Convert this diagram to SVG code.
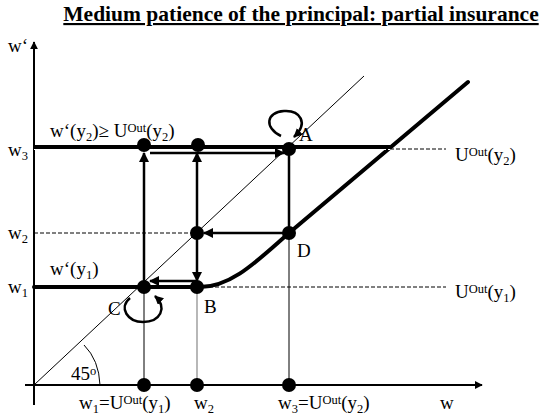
<svg xmlns="http://www.w3.org/2000/svg" width="542" height="415" viewBox="0 0 542 415">
<defs>
<style>
.t{font-family:"Liberation Serif","Times New Roman",serif;font-size:19px;fill:#000}
.sub{font-size:12.5px}
.sup{font-size:12.5px}
.thin{stroke:#000;stroke-width:1;fill:none}
.thick{stroke:#000;stroke-width:4;fill:none}
.med{stroke:#000;stroke-width:2.5;fill:none}
.dash{stroke:#000;stroke-width:1;stroke-dasharray:4,2;fill:none}
.dot{fill:#000}
</style>
<marker id="ah" viewBox="0 0 10 10" refX="9" refY="5" markerWidth="4" markerHeight="4" orient="auto-start-reverse">
<path d="M0,0 L10,5 L0,10 z" fill="#000"/>
</marker>
<marker id="ahs" viewBox="0 0 10 10" refX="9" refY="5" markerWidth="3.6" markerHeight="3.6" orient="auto">
<path d="M0,0 L10,5 L0,10 z" fill="#000"/>
</marker>
</defs>
<rect width="542" height="415" fill="#fff"/>
<text x="301" y="21" text-anchor="middle" style="font-family:'Liberation Serif','Times New Roman',serif;font-size:21.5px;font-weight:bold;text-decoration:underline">Medium patience of the principal: partial insurance</text>
<g id="axes">
<line x1="34" y1="405" x2="34" y2="42" stroke="#000" stroke-width="2" marker-end="url(#ah)"/>
<line x1="25" y1="385" x2="482" y2="385" stroke="#000" stroke-width="2" marker-end="url(#ah)"/>
<line x1="34" y1="385" x2="364" y2="76" class="thin"/>
<path d="M100,385 Q99,360 84,345" class="thin"/>
</g>
<g id="connectors">
<path d="M34,287 L200,287 C232,287 258,260 289,233 L468,82" class="thick" stroke-linecap="round"/>
<line x1="34" y1="147" x2="390" y2="147" class="thick"/>
<line x1="34" y1="149.5" x2="446" y2="149.5" stroke="#fff" stroke-width="1" stroke-dasharray="4,2"/>
<line x1="390" y1="149" x2="446" y2="149" class="dash"/>
<line x1="34" y1="233" x2="197" y2="233" class="dash"/>
<line x1="197" y1="287" x2="446" y2="287" class="dash"/>
<line x1="144" y1="385" x2="144" y2="287" class="thin"/>
<line x1="197" y1="385" x2="197" y2="287" stroke="#888" stroke-width="1.2"/>
<line x1="289" y1="385" x2="289" y2="233" class="thin"/>
<line x1="289" y1="148" x2="289" y2="233" class="med"/>
<line x1="144" y1="287" x2="144" y2="153" class="med" marker-end="url(#ah)"/>
<line x1="197" y1="233" x2="197" y2="153" class="med" marker-end="url(#ah)"/>
<line x1="197" y1="233" x2="197" y2="281" class="med" marker-end="url(#ah)"/>
<line x1="150" y1="153" x2="284" y2="153" class="med" marker-end="url(#ah)"/>
<line x1="289" y1="233" x2="204" y2="233" class="med" marker-end="url(#ah)"/>
<line x1="197" y1="281" x2="150" y2="281" class="med" marker-end="url(#ah)"/>
<path d="M281,136 C264,128 266,112 284,111 C300,110 309,123 294,137" class="med" marker-end="url(#ahs)"/>
<path d="M130,298 C118,308 128,322 143,322 C160,322 168,308 155,296" class="med" marker-end="url(#ahs)"/>
</g>
<g id="nodes">
<g id="top1"><circle cx="144" cy="145" r="7" class="dot"/></g>
<g id="top2"><circle cx="198" cy="145" r="7" class="dot"/></g>
<g id="A"><circle cx="289" cy="149" r="7" class="dot"/><text x="299" y="141" class="t" font-size="20">A</text></g>
<g id="mid"><circle cx="197" cy="233" r="7" class="dot"/></g>
<g id="D"><circle cx="289" cy="233" r="7" class="dot"/><text x="297" y="257" class="t">D</text></g>
<g id="C"><circle cx="144" cy="287" r="7" class="dot"/><text x="108" y="315" class="t">C</text></g>
<g id="B"><circle cx="197" cy="287" r="7" class="dot"/><text x="204" y="313" class="t">B</text></g>
<g id="b1"><circle cx="144" cy="385" r="7" class="dot"/></g>
<g id="b2"><circle cx="197" cy="385" r="7" class="dot"/></g>
<g id="b3"><circle cx="289" cy="385" r="7" class="dot"/></g>
</g>
<g id="labels">
<text x="8" y="52" class="t">w‘</text>
<text x="8" y="156" class="t">w<tspan class="sub" dy="4">3</tspan></text>
<text x="8" y="239" class="t">w<tspan class="sub" dy="4">2</tspan></text>
<text x="8" y="293" class="t">w<tspan class="sub" dy="4">1</tspan></text>
<text x="50" y="137" class="t">w‘(y<tspan class="sub" dy="4">2</tspan><tspan dy="-4">)≥ U</tspan><tspan class="sup" dy="-5">Out</tspan><tspan dy="5">(y</tspan><tspan class="sub" dy="4">2</tspan><tspan dy="-4">)</tspan></text>
<text x="50" y="275" class="t">w‘(y<tspan class="sub" dy="4">1</tspan><tspan dy="-4">)</tspan></text>
<text x="455" y="161" class="t">U<tspan class="sup" dy="-5">Out</tspan><tspan dy="5">(y</tspan><tspan class="sub" dy="4">2</tspan><tspan dy="-4">)</tspan></text>
<text x="455" y="298" class="t">U<tspan class="sup" dy="-5">Out</tspan><tspan dy="5">(y</tspan><tspan class="sub" dy="4">1</tspan><tspan dy="-4">)</tspan></text>
<text x="71" y="380" class="t">45<tspan class="sup" dy="-5">o</tspan></text>
<text x="79" y="409" class="t">w<tspan class="sub" dy="4">1</tspan><tspan dy="-4">=U</tspan><tspan class="sup" dy="-5">Out</tspan><tspan dy="5">(y</tspan><tspan class="sub" dy="4">1</tspan><tspan dy="-4">)</tspan></text>
<text x="194" y="409" class="t">w<tspan class="sub" dy="4">2</tspan></text>
<text x="278" y="409" class="t">w<tspan class="sub" dy="4">3</tspan><tspan dy="-4">=U</tspan><tspan class="sup" dy="-5">Out</tspan><tspan dy="5">(y</tspan><tspan class="sub" dy="4">2</tspan><tspan dy="-4">)</tspan></text>
<text x="440" y="409" class="t">w</text>
</g>
</svg>
